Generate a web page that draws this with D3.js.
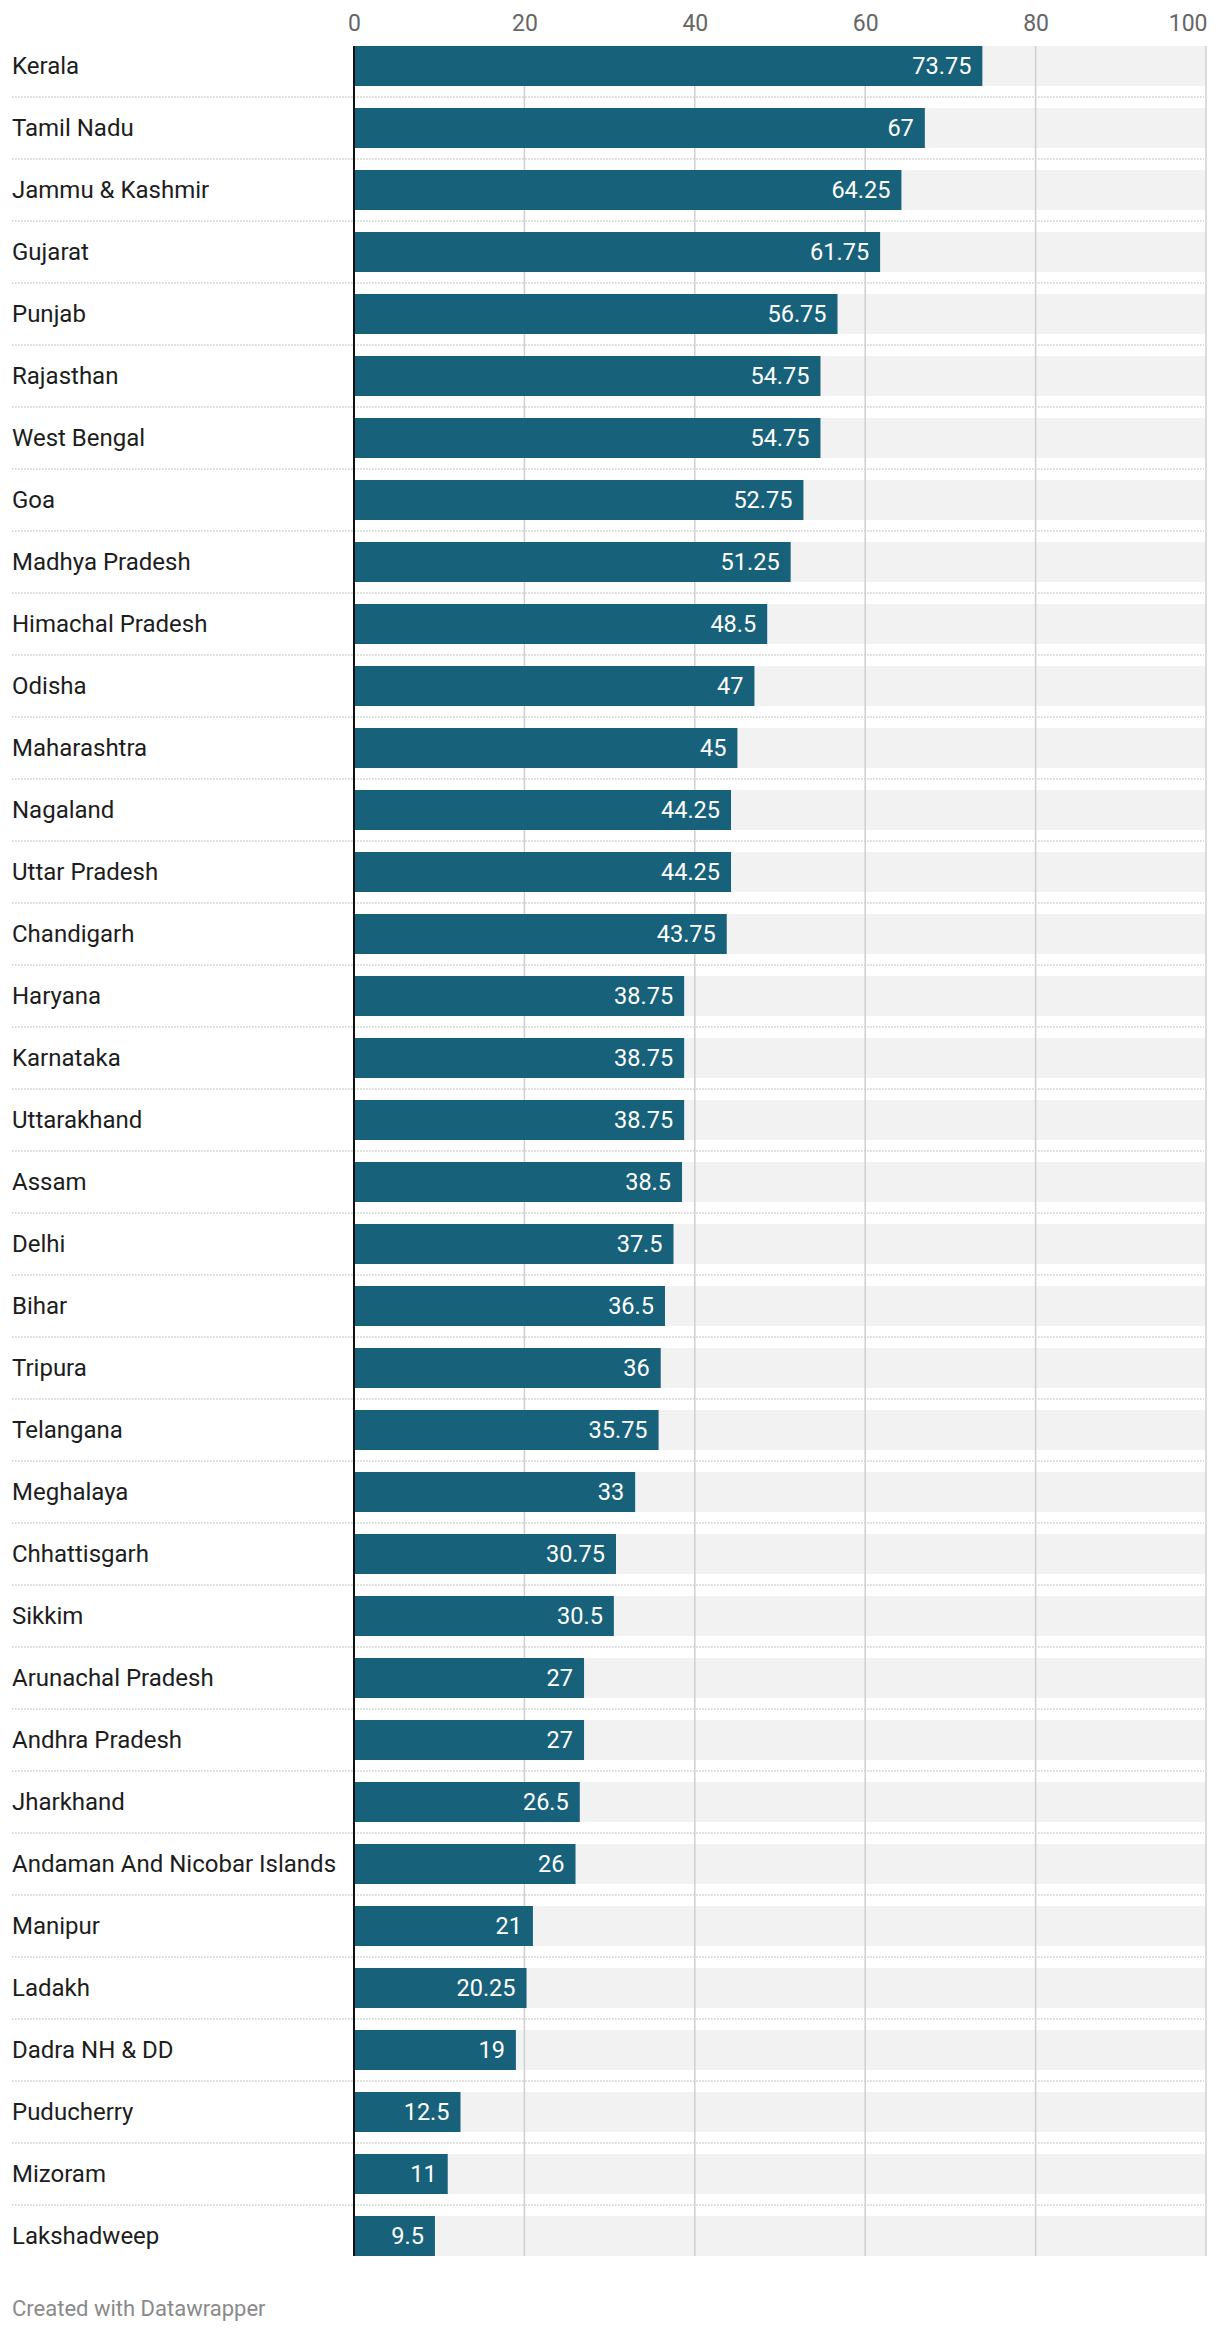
<!DOCTYPE html>
<html>
<head>
<meta charset="utf-8">
<script src="https://cdn.jsdelivr.net/npm/d3@7"></script>
<style>
  html, body { margin: 0; padding: 0; background: #fff; }
  svg { display: block; font-family: Roboto, "Noto Sans", sans-serif; }
</style>
</head>
<body>
<svg id="chart" width="1220" height="2332"></svg>
<script>
const categories = ["Kerala","Tamil Nadu","Jammu & Kashmir","Gujarat","Punjab","Rajasthan","West Bengal","Goa","Madhya Pradesh","Himachal Pradesh","Odisha","Maharashtra","Nagaland","Uttar Pradesh","Chandigarh","Haryana","Karnataka","Uttarakhand","Assam","Delhi","Bihar","Tripura","Telangana","Meghalaya","Chhattisgarh","Sikkim","Arunachal Pradesh","Andhra Pradesh","Jharkhand","Andaman And Nicobar Islands","Manipur","Ladakh","Dadra NH & DD","Puducherry","Mizoram","Lakshadweep"];
const values = [73.75,67,64.25,61.75,56.75,54.75,54.75,52.75,51.25,48.5,47,45,44.25,44.25,43.75,38.75,38.75,38.75,38.5,37.5,36.5,36,35.75,33,30.75,30.5,27,27,26.5,26,21,20.25,19,12.5,11,9.5];
const tickValues = [0,20,40,60,80,100];
const footer = "Created with Datawrapper";

const data = categories.map((c,i) => ({name: c, value: values[i]}));
const svg = d3.select("#chart");

const x = d3.scaleLinear().domain([0,100]).range([354,1206]);
const y = d3.scaleBand().domain(categories).range([46,2256]).paddingInner(22/62).paddingOuter(0);
const bw = y.bandwidth();

// background bars
svg.append("g").selectAll("rect").data(data).join("rect")
  .attr("x", x(0)).attr("y", d => y(d.name))
  .attr("width", x(100) - x(0)).attr("height", bw)
  .attr("fill", "#f2f2f2");

// dotted separators
svg.append("g").selectAll("line").data(data.slice(0, -1)).join("line")
  .attr("x1", 12).attr("x2", x(100) - 2)
  .attr("y1", d => y(d.name) + bw + (y.step() - bw)/2)
  .attr("y2", d => y(d.name) + bw + (y.step() - bw)/2)
  .attr("stroke", "#d2d2d2").attr("stroke-width", 1.7)
  .attr("stroke-dasharray", "1.7,1.3");

// grid lines
svg.append("g").selectAll("line").data(tickValues.filter(t => t > 0)).join("line")
  .attr("x1", d => x(d)).attr("x2", d => x(d))
  .attr("y1", 46).attr("y2", 2256)
  .attr("stroke", "#d0d0d0").attr("stroke-width", 1.5);

// bars
svg.append("g").selectAll("rect").data(data).join("rect")
  .attr("x", x(0)).attr("y", d => y(d.name))
  .attr("width", d => x(d.value) - x(0)).attr("height", bw)
  .attr("fill", "#18617b");

// zero line
svg.append("line")
  .attr("x1", x(0)).attr("x2", x(0)).attr("y1", 46).attr("y2", 2256)
  .attr("stroke", "#111").attr("stroke-width", 2);

// value labels
svg.append("g").selectAll("text").data(data).join("text")
  .attr("x", d => x(d.value) - 11)
  .attr("y", d => y(d.name) + bw/2)
  .attr("dy", "0.35em")
  .attr("text-anchor", "end")
  .attr("fill", "#fff")
  .style("font-size", "23.5px")
  .text(d => d.value);

// category labels
svg.append("g").selectAll("text").data(data).join("text")
  .attr("x", 12)
  .attr("y", d => y(d.name) + bw/2)
  .attr("dy", "0.35em")
  .attr("fill", "#1d1d1d")
  .style("font-size", "24px")
  .text(d => d.name);

// axis
const axis = d3.axisTop(x).tickValues(tickValues).tickSize(0).tickPadding(0);
const ax = svg.append("g").attr("transform", "translate(0,31)").call(axis);
ax.select(".domain").remove();
ax.selectAll("text")
  .attr("fill", "#666")
  .style("font-size", "23px")
  .style("font-family", "Roboto, sans-serif")
  .attr("text-anchor", d => d === 100 ? "end" : "middle")
  .attr("dx", d => d === 100 ? 1 : 0);

// footer
svg.append("text")
  .attr("x", 12).attr("y", 2316)
  .attr("fill", "#8a8a8a")
  .style("font-size", "22px")
  .text(footer);
</script>
</body>
</html>
